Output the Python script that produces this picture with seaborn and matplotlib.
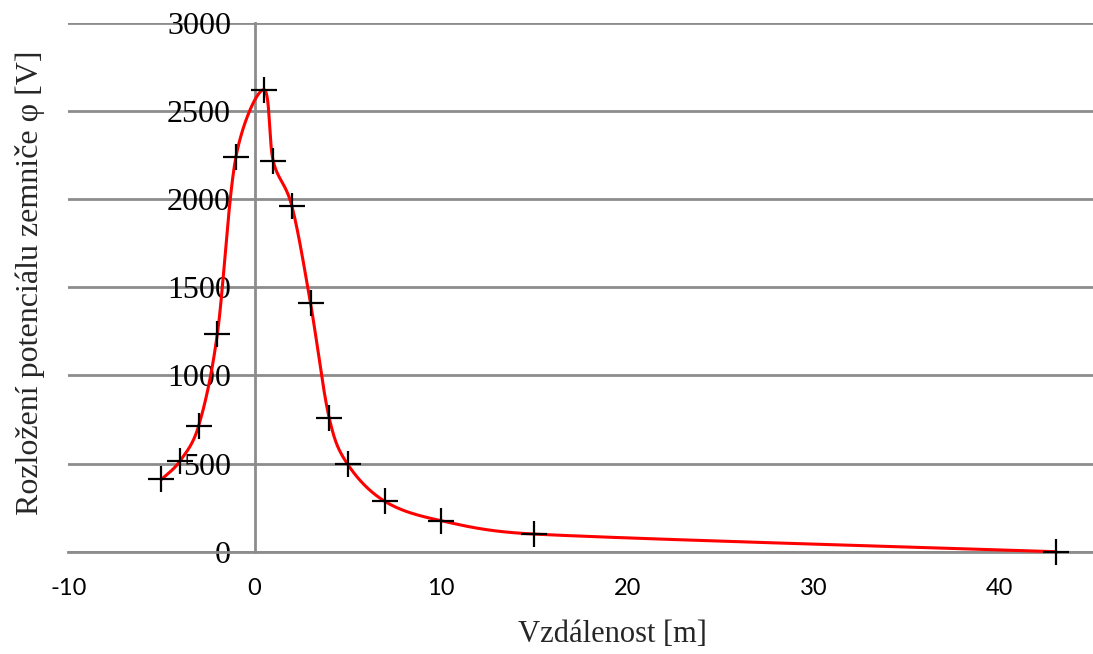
import numpy as np
import pandas as pd
import matplotlib
matplotlib.use("Agg")
import matplotlib.pyplot as plt
import seaborn as sns

# measured values
distance = [-5, -4, -3, -2, -1, 0.5, 1, 2, 3, 4, 5, 7, 10, 15, 43]
potential = [410, 515, 715, 1235, 2240, 2620, 2215, 1960, 1410, 760, 495, 285, 176, 100, 0]
x_ticks = [-10, 0, 10, 20, 30, 40]
y_ticks = [0, 500, 1000, 1500, 2000, 2500, 3000]

xlabel = "Vzdálenost [m]"
ylabel = "Rozložení potenciálu zemniče φ [V]"

W, H = 1093, 654
left, right, top, bottom = 68.3, 1093, 22.7, 551.7
XMIN, XMAX, YMIN, YMAX = -10, 45, 0, 3000


def smooth_curve(xs, ys, n=80):
    # Excel-like smoothed line: cubic bezier with Catmull-Rom control points,
    # worked out in pixel space and with the handles limited so nothing loops
    sx = (right - left) / (XMAX - XMIN)
    sy = (bottom - top) / (YMAX - YMIN)
    pts = np.column_stack([np.asarray(xs) * sx, np.asarray(ys) * sy]).astype(float)
    out = []
    for i in range(len(pts) - 1):
        p0 = pts[i - 1] if i > 0 else pts[i]
        p1 = pts[i]
        p2 = pts[i + 1]
        p3 = pts[i + 2] if i + 2 < len(pts) else pts[i + 1]
        L = np.linalg.norm(p2 - p1)
        d1 = (p2 - p0) / 6
        d2 = (p3 - p1) / 6
        for d in (d1, d2):
            m = np.linalg.norm(d)
            if m > L / 2:
                d *= (L / 2) / m
        c1 = p1 + d1
        c2 = p2 - d2
        t = np.linspace(0, 1, n)[:, None]
        seg = ((1 - t) ** 3) * p1 + 3 * ((1 - t) ** 2) * t * c1 + 3 * (1 - t) * t ** 2 * c2 + t ** 3 * p2
        out.append(seg if i == 0 else seg[1:])
    out = np.vstack(out)
    return out[:, 0] / sx, out[:, 1] / sy


sns.set_style("white")
plt.rcParams['font.family'] = ['Liberation Serif', 'DejaVu Serif']

fig = plt.figure(figsize=(W / 100, H / 100), dpi=100)
ax = fig.add_axes([left / W, 1 - bottom / H, (right - left) / W, (bottom - top) / H])

grid_col = "#8c8c8c"

cx, cy = smooth_curve(distance, potential)
curve = pd.DataFrame({"x": cx, "y": cy})
sns.lineplot(data=curve, x="x", y="y", sort=False, color="red", linewidth=2.2,
             ax=ax, zorder=3, clip_on=False)

points = pd.DataFrame({"x": distance, "y": potential})
sns.scatterplot(data=points, x="x", y="y", marker="+", s=340, color="black",
                linewidth=1.6, ax=ax, zorder=4, clip_on=False)

# spines first: moving the spine resets the ticks
for s in ["top", "right"]:
    ax.spines[s].set_visible(False)
ax.spines["left"].set_position(("data", 0))
ax.spines["left"].set_color(grid_col)
ax.spines["left"].set_linewidth(2)
ax.spines["bottom"].set_color(grid_col)
ax.spines["bottom"].set_linewidth(2)

ax.set_xlim(XMIN, XMAX)
ax.set_ylim(YMIN, YMAX)
ax.set_xticks(x_ticks, labels=[str(v) for v in x_ticks], fontfamily="Lato", fontsize=17)
ax.set_yticks(y_ticks, labels=[str(v) for v in y_ticks], fontsize=23)

ax.yaxis.grid(True, color=grid_col, linewidth=2)
ax.xaxis.grid(False)
ax.tick_params(axis="y", length=0, pad=17, labelcolor="black")
ax.tick_params(axis="x", length=7, width=2, color=grid_col, pad=12, labelcolor="black")

ax.set_xlabel(xlabel, fontsize=22, va="center")
ax.xaxis.set_label_coords((612 - left) / (right - left), (bottom - 635) / (bottom - top))
ax.set_ylabel(ylabel, fontsize=23, va="center")
ax.yaxis.set_label_coords((30 - left) / (right - left), (bottom - 283) / (bottom - top))

fig.savefig("out.png", dpi=100)
